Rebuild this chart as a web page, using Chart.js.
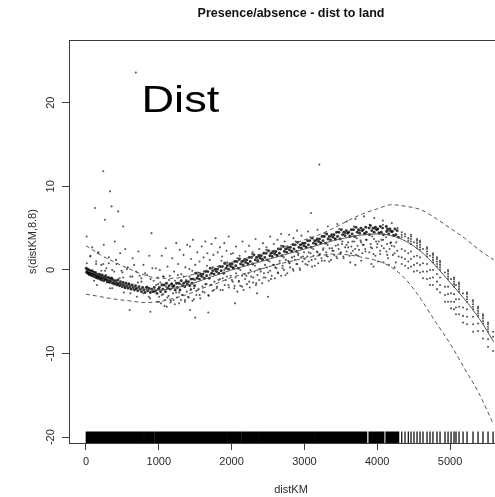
<!DOCTYPE html>
<html>
<head>
<meta charset="utf-8">
<script src="https://cdn.jsdelivr.net/npm/chart.js@4.4.1/dist/chart.umd.min.js"></script>
<style>
html, body { margin: 0; padding: 0; overflow: hidden; background: #fff; }
canvas { display: block; }
</style>
</head>
<body>
<canvas id="gamPlot" width="530" height="497"></canvas>
<script>
// Smooth term s(distKM) with its +/- 2 SE band
const fitKm    = [0,200,400,600,800,1000,1200,1400,1600,1800,2000,2200,2400,2600,2800,3000,3200,3400,3600,3800,4000,4200,4400,4600,4800,5000,5200,5400,5600];
const fitVal   = [0.0,-0.7,-1.4,-1.9,-2.3,-2.4,-2.2,-1.8,-1.2,-0.6,0.0,0.5,1.0,1.5,2.0,2.5,3.0,3.5,3.9,4.2,4.3,4.1,3.4,2.2,0.5,-1.5,-3.5,-5.8,-8.6];
const upperVal = [2.9,1.8,0.9,0.1,-0.6,-1.0,-1.0,-0.7,-0.2,0.4,0.9,1.4,1.9,2.4,3.0,3.6,4.2,5.0,5.9,6.7,7.3,7.8,7.6,7.2,6.2,5.0,3.8,2.4,1.2];
const lowerVal = [-2.9,-3.2,-3.5,-3.7,-3.9,-3.8,-3.4,-2.9,-2.2,-1.6,-0.9,-0.4,0.1,0.6,1.0,1.4,1.7,1.9,1.8,1.5,1.1,0.3,-1.2,-3.5,-6.2,-8.8,-11.8,-14.8,-18.5];

// Axis tick values
const xTickKm  = [0,1000,2000,3000,4000,5000];
const yTickVal = [-20,-10,0,10,20];

// Partial residuals [distKM, residual] -- concentrated band
const residNear = [[4,0.2],[9,-0.3],[15,-0.1],[22,0.1],[27,-0.4],[33,-0.2],[40,0.0],[46,-0.5],[52,-0.3],[58,-0.1],[65,-0.6],[71,-0.2],[78,-0.4],[84,-0.7],[90,-0.2],[97,-0.5],[104,-0.3],[110,-0.8],[117,-0.4],[124,-0.6],[131,-0.3],[138,-0.9],[145,-0.5],[152,-0.7],[160,-1.0],[167,-0.6],[175,-0.8],[183,-0.5],[190,-1.1],[198,-0.7],[206,-0.9],[214,-1.2],[222,-0.6],[230,-1.0],[238,-0.8],[246,-1.3],[255,-0.9],[263,-1.1],[271,-0.7],[280,-1.2],[289,-1.0],[298,-1.4],[307,-0.9],[316,-1.2],[325,-1.5],[335,-1.1],[344,-1.3],[354,-1.0],[364,-1.6],[374,-1.2],[384,-1.4],[394,-1.7],[405,-1.3],[416,-1.5],[427,-1.8],[438,-1.2],[450,-1.6],[462,-1.9],[474,-1.4],[486,-1.7],[498,-2.0],[511,-1.5],[524,-1.8],[537,-2.1],[550,-1.6],[564,-1.9],[578,-2.2],[592,-1.7],[606,-2.0],[620,-2.3],[635,-1.8],[650,-2.1],[665,-2.4],[680,-1.9],[696,-2.2],[712,-2.5],[728,-2.0],[745,-2.3],[762,-2.6],[779,-2.1],[796,-2.4],[813,-2.7],[830,-2.1],[848,-2.5],[866,-2.2],[884,-2.7],[902,-2.3],[920,-2.6],[938,-2.1],[956,-2.5],[975,-2.8],[994,-2.3]];

const residBand = [[1008,-2.1],[1025,-2.6],[1043,-1.8],[1057,-2.3],[1074,-1.8],[1092,-2.6],[1106,-1.6],[1124,-2.2],[1141,-1.9],[1157,-2.3],[1175,-1.7],[1192,-2.0],[1209,-1.9],[1226,-2.4],[1244,-1.6],[1256,-2.1],[1274,-1.6],[1291,-2.4],[1308,-1.3],[1325,-1.9],[1343,-1.6],[1357,-2.0],[1374,-1.4],[1392,-1.7],[1408,-1.4],[1425,-1.9],[1443,-1.1],[1456,-1.6],[1474,-1.1],[1491,-1.9],[1507,-0.4],[1525,-1.0],[1542,-0.7],[1558,-1.1],[1575,-0.5],[1593,-0.8],[1608,-0.5],[1626,-1.0],[1643,-0.2],[1657,-0.7],[1674,-0.2],[1692,-1.0],[1707,0.2],[1725,-0.4],[1742,-0.1],[1758,-0.5],[1776,0.1],[1793,-0.2],[1808,0.1],[1825,-0.4],[1843,0.4],[1857,-0.1],[1874,0.4],[1892,-0.4],[1906,0.8],[1924,0.2],[1941,0.5],[1958,0.1],[1975,0.7],[1993,0.4],
  [2008,0.7],[2025,0.2],[2043,1.0],[2057,0.5],[2074,1.0],[2092,0.2],[2107,1.3],[2124,0.7],[2142,1.0],[2158,0.6],[2175,1.2],[2193,0.9],[2208,1.2],[2226,0.7],[2243,1.5],[2256,1.0],[2274,1.5],[2291,0.7],[2307,1.8],[2325,1.2],[2342,1.5],[2358,1.1],[2375,1.7],[2393,1.4],[2408,1.7],[2426,1.2],[2443,2.0],[2456,1.5],[2474,2.0],[2491,1.2],[2507,2.3],[2525,1.7],[2542,2.0],[2558,1.6],[2575,2.2],[2593,1.9],[2608,2.2],[2626,1.7],[2643,2.5],[2656,2.0],[2674,2.5],[2691,1.7],[2707,2.8],[2725,2.2],[2742,2.5],[2758,2.1],[2776,2.7],[2793,2.4],[2808,2.7],[2826,2.2],[2843,3.0],[2857,2.5],[2874,3.0],[2892,2.2],[2907,3.3],[2925,2.7],[2942,3.0],[2958,2.6],[2975,3.2],[2993,2.9],
  [3008,3.2],[3026,2.7],[3043,3.5],[3056,3.0],[3074,3.5],[3091,2.7],[3107,3.8],[3125,3.2],[3142,3.5],[3158,3.1],[3176,3.7],[3193,3.4],[3208,3.7],[3226,3.2],[3243,4.0],[3256,3.5],[3274,4.0],[3291,3.2],[3307,4.3],[3325,3.7],[3342,4.0],[3358,3.6],[3375,4.2],[3393,3.9],[3408,4.2],[3426,3.7],[3443,4.5],[3456,4.0],[3474,4.5],[3491,3.7],[3507,4.8],[3525,4.2],[3542,4.5],[3558,4.1],[3575,4.7],[3593,4.4],[3608,4.5],[3626,4.0],[3643,4.8],[3656,4.3],[3674,4.8],[3691,4.0],[3707,5.1],[3725,4.5],[3742,4.8],[3758,4.4],[3776,5.0],[3793,4.7],[3808,4.8],[3826,4.3],[3843,5.1],[3850,4.5],[3888,5.0],[3894,4.2],[3907,5.3],[3925,4.7],[3942,5.0],[3958,4.5],[3975,5.1],[3993,4.8],[4008,4.9],[4026,4.4],[4043,5.2],[4056,4.5],[4074,5.0],[4086,4.2],[4124,5.2],[4130,4.6],[4142,4.9],[4158,4.3],[4176,4.9],[4193,4.6],[4208,4.6],[4226,4.1],[4243,4.9],[4256,4.2],[4274,4.7],[4291,3.9]];

// Partial residuals -- scattered cloud
const residCloud = [[9,4.0],[60,1.6],[85,2.7],[123,7.4],[140,1.0],[150,-1.8],[170,2.1],[210,0.6],[245,3.0],[260,6.0],[280,0.2],[315,1.5],[329,9.4],[330,-2.2],[352,7.6],[360,0.0],[395,3.4],[420,0.7],[443,7.0],[470,2.0],[500,-0.3],[511,5.2],[520,-2.7],[540,2.5],[575,0.3],[600,-4.8],[610,-0.8],[640,1.4],[690,-0.2],[700,-3.2],[720,2.2],[760,-1.0],[790,0.6],[840,-0.6],[870,1.7],[880,-3.4],[885,-5.0],[900,4.4],[930,-1.3],[960,0.2],[980,-3.8],[990,-1.7],
  [1015,0.0],[1040,1.7],[1068,-0.8],[1095,2.6],[1120,0.4],[1150,-0.7],[1185,1.4],[1210,-0.2],[1240,3.2],[1265,0.7],[1288,2.4],[1310,-0.5],[1340,1.8],[1365,0.3],[1390,3.0],[1420,0.1],[1428,2.8],[1445,1.3],[1470,3.6],[1500,0.6],[1530,2.1],[1560,1.0],[1590,2.8],[1615,1.5],[1640,3.4],[1668,2.0],[1700,1.2],[1725,3.1],[1750,1.8],[1780,3.8],[1810,2.1],[1840,2.7],[1870,1.6],[1900,3.2],[1930,2.3],[1960,4.0],[1990,1.9],
  [1005,-3.2],[1030,-4.0],[1060,-2.9],[1085,-3.6],[1110,-4.4],[1135,-3.1],[1165,-3.7],[1195,-2.8],[1220,-4.1],[1250,-3.3],[1280,-2.7],[1305,-3.6],[1330,-3.0],[1360,-3.8],[1385,-2.6],[1410,-3.3],[1430,-4.8],[1438,-2.4],[1462,-3.7],[1485,-2.2],[1500,-5.7],[1515,-3.0],[1545,-2.3],[1570,-3.4],[1600,-2.0],[1628,-2.7],[1655,-1.7],[1680,-5.1],[1685,-3.1],[1712,-1.8],[1738,-2.5],[1765,-1.4],[1795,-2.2],[1822,-1.2],[1848,-2.4],[1878,-1.0],[1905,-1.8],[1935,-0.8],[1962,-2.1],[1988,-0.7],
  [2020,2.0],[2060,2.8],[2110,1.7],[2150,3.4],[2190,2.2],[2240,2.9],[2290,2.1],[2330,3.7],[2380,2.5],[2430,3.2],[2480,2.7],[2530,4.0],[2580,3.1],[2630,3.6],[2680,4.3],[2730,3.4],[2790,4.2],[2850,3.8],[2900,4.7],[2960,4.1],
  [2015,-1.4],[2035,-2.2],[2047,-4.0],[2055,-0.9],[2080,-2.6],[2100,-1.3],[2120,-1.9],[2145,-0.7],[2165,-2.4],[2185,-1.1],[2210,-1.7],[2230,-0.4],[2250,-2.1],[2270,-0.8],[2295,-1.5],[2315,-0.2],[2335,-1.8],[2350,-2.8],[2355,-0.6],[2380,-1.2],[2400,0.1],[2420,-1.6],[2445,-0.4],[2465,-0.9],[2485,0.3],[2500,-3.2],[2510,-1.3],[2530,-0.1],[2550,-0.7],[2570,0.6],[2595,-1.0],[2615,0.2],[2635,-0.3],[2660,0.8],[2680,-0.7],[2700,0.5],[2720,0.0],[2745,1.2],[2765,-0.4],[2785,0.9],[2805,0.3],[2830,1.5],[2850,-0.1],[2870,1.2],[2890,0.7],[2915,1.8],[2935,0.2],[2955,1.5],[2975,1.0],[2995,2.1],
  [3015,0.7],[3040,1.6],[3050,4.6],[3060,1.0],[3085,2.0],[3105,0.4],[3125,1.7],[3150,1.3],[3170,2.2],[3180,4.8],[3190,0.8],[3215,1.9],[3235,1.4],[3255,2.4],[3280,1.1],[3300,2.1],[3320,1.6],[3322,5.2],[3345,2.6],[3365,1.2],[3385,2.3],[3410,1.8],[3430,2.9],[3450,1.4],[3452,5.5],[3470,2.5],[3495,2.0],[3515,3.1],[3535,1.6],[3560,2.7],[3580,2.2],[3582,5.8],[3600,3.3],[3620,1.7],[3630,0.9],[3645,2.8],[3665,2.3],[3685,3.4],[3700,0.6],[3702,6.1],[3710,1.8],[3730,2.9],[3750,2.4],[3772,3.5],[3780,1.1],[3795,2.0],[3815,3.0],[3820,6.4],[3835,2.5],[3846,3.6],[3892,2.1],[3910,3.1],[3920,0.7],[3930,2.6],[3950,0.4],[3955,3.7],[3960,6.2],[3975,1.7],[3998,2.7],[4010,1.0],[4020,3.4],[4040,1.9],[4062,2.9],[4078,5.9],[4080,3.6],[4088,0.9],[4126,2.2],[4135,3.1],[4150,1.4],[4160,0.6],[4170,2.5],[4190,3.3],[4200,5.6],[4215,1.8],[4235,2.8],[4240,0.3],[4255,0.9],[4275,2.3],[4295,1.6]];

// Partial residuals -- second layer of the cloud around the smooth
const residSpread = [[12,0.8],[37,-0.6],[61,1.7],[88,0.0],[112,-1.3],[139,0.7],[163,2.0],[188,-0.9],[211,-0.1],[238,0.7],[262,-0.1],[287,-1.5],[313,0.8],[337,-0.9],[361,-2.2],[388,-0.2],[412,1.2],[437,-1.7],[463,-1.0],[488,-0.1],[512,-0.9],[536,-2.2],[563,0.1],[589,-1.6],[611,-2.8],[638,-0.8],[662,0.6],[687,-2.3],[713,-1.5],[737,-0.7],[762,-1.4],[788,-2.8],[812,-0.4],[839,-2.0],[863,-3.2],[888,-1.1],[912,0.2],[937,-2.6],[963,-1.8],[988,-0.9],
  [1003,-3.8],[1021,-1.5],[1042,-3.0],[1060,-0.8],[1079,-4.3],[1101,-2.0],[1118,-3.3],[1139,-1.2],[1161,-3.9],[1180,-1.6],[1203,-3.6],[1222,-1.3],[1238,-2.7],[1262,-0.6],[1279,-4.0],[1297,-1.7],[1318,-3.0],[1341,-0.8],[1359,-3.6],[1377,-1.2],[1402,-3.2],[1420,-0.8],[1441,-2.3],[1460,-0.1],[1482,-3.5],[1499,-1.2],[1517,-2.5],[1538,-0.3],[1561,-3.0],[1579,-0.7],[1603,-2.6],[1619,-0.2],[1640,-1.7],[1662,0.5],[1681,-3.0],[1702,-0.6],[1719,-1.8],[1741,0.3],[1760,-2.4],[1778,-0.1],[1801,-2.0],[1822,0.4],[1839,-1.1],[1861,1.1],[1880,-2.4],[1899,0.0],[1921,-1.2],[1940,0.9],[1958,-1.8],[1979,0.5],
  [2004,-1.2],[2019,0.3],[2041,-1.9],[2062,-0.4],[2078,1.4],[2099,-1.4],[2121,0.0],[2143,-2.0],[2160,1.0],[2181,-0.5],[2203,-0.7],[2218,0.8],[2242,-1.4],[2259,0.0],[2283,1.9],[2298,-0.9],[2322,0.5],[2339,-1.6],[2358,1.5],[2382,0.1],[2401,-0.2],[2423,1.3],[2441,-0.9],[2460,0.6],[2478,2.4],[2502,-0.3],[2519,1.0],[2540,-1.1],[2563,2.0],[2581,0.6],[2600,0.3],[2622,1.8],[2639,-0.4],[2661,1.1],[2679,2.9],[2702,0.2],[2718,1.5],[2741,-0.6],[2763,2.5],[2779,1.1],[2798,0.8],[2821,2.3],[2842,0.1],[2861,1.6],[2880,3.4],[2902,0.7],[2919,2.0],[2940,0.0],[2962,3.0],[2981,1.6],
  [3003,1.3],[3018,2.8],[3041,0.6],[3060,2.1],[3082,3.9],[3099,1.2],[3121,2.5],[3143,0.5],[3159,3.5],[3181,2.1],[3201,1.8],[3222,3.3],[3240,1.1],[3261,2.6],[3279,4.4],[3302,1.7],[3319,3.0],[3341,1.0],[3363,4.0],[3380,2.6],[3399,2.3],[3421,3.7],[3439,1.6],[3461,3.0],[3478,4.9],[3501,2.1],[3522,3.4],[3539,1.4],[3561,4.4],[3579,3.0],[3602,2.7],[3618,4.1],[3641,2.0],[3659,3.4],[3680,5.2],[3697,2.5],[3719,3.8],[3738,1.7],[3761,4.7],[3779,3.3],[3801,3.0],[3822,4.4],[3839,2.2],[3855,3.6],[3897,5.4],[3912,2.7],[3931,4.0],[3949,1.9],[3968,4.9],[3985,3.4],[4002,3.1],[4021,4.5],[4039,2.3],[4058,3.6],[4079,5.4],[4091,2.6],[4121,3.9],[4138,1.8],[4162,4.7],[4181,3.2],[4199,2.9],[4221,4.2],[4238,2.0],[4262,3.3],[4281,5.0]];

// Partial residuals -- beyond 4300 km, grouped at few distances
const residOffshore = [[4337,4.2],[4337,4.5],[4337,3.9],[4337,2.5],[4337,1.5],[4337,0.7],
  [4382,4.0],[4382,4.3],[4382,2.3],[4382,1.3],[4382,0.5],
  [4427,3.8],[4427,3.5],[4427,2.0],[4427,1.0],[4427,0.2],
  [4464,3.1],[4464,3.4],[4464,3.7],[4464,4.0],[4464,4.2],[4464,2.2],[4464,1.3],[4464,0.4],
  [4505,3.3],[4505,1.6],[4505,0.6],[4505,-0.2],
  [4547,2.6],[4547,2.9],[4547,3.2],[4547,3.5],[4547,3.7],[4547,1.7],[4547,0.8],[4547,-0.1],
  [4588,2.4],[4588,2.7],[4588,3.0],[4588,3.3],[4588,3.5],[4588,1.5],[4588,0.6],[4588,-0.3],
  [4629,2.5],[4629,0.8],[4629,-0.2],[4629,-1.0],
  [4684,1.6],[4684,1.9],[4684,2.2],[4684,2.5],[4684,2.7],[4684,0.7],[4684,-0.2],[4684,-1.1],
  [4725,1.7],[4725,0.0],[4725,-1.0],[4725,-1.8],
  [4766,0.9],[4766,1.2],[4766,1.5],[4766,1.8],[4766,2.0],[4766,0.0],[4766,-0.9],[4766,-1.8],
  [4821,0.4],[4821,0.7],[4821,1.0],[4821,1.3],[4821,1.5],[4821,-0.5],[4821,-1.4],[4821,-2.3],
  [4863,0.0],[4863,0.3],[4863,0.6],[4863,0.9],[4863,1.1],[4863,-0.9],[4863,-1.8],[4863,-2.7],
  [4931,-0.3],[4931,-2.0],[4931,-3.0],[4931,-3.8],
  [4973,-1.1],[4973,-0.8],[4973,-0.5],[4973,-0.2],[4973,0.0],[4973,-2.0],[4973,-2.9],[4973,-3.8],
  [5014,-1.1],[5014,-2.8],[5014,-3.8],[5014,-4.6],
  [5055,-2.0],[5055,-1.7],[5055,-1.4],[5055,-1.1],[5055,-0.9],[5055,-2.9],[5055,-3.8],[5055,-4.7],
  [5082,-1.8],[5082,-3.5],[5082,-4.5],[5082,-5.3],
  [5124,-2.6],[5124,-2.3],[5124,-2.0],[5124,-1.7],[5124,-1.5],[5124,-3.5],[5124,-4.4],[5124,-5.3],
  [5179,-2.8],[5179,-4.5],[5179,-5.5],[5179,-6.3],
  [5234,-3.8],[5234,-3.5],[5234,-3.2],[5234,-2.9],[5234,-2.7],[5234,-4.7],[5234,-5.6],[5234,-6.5],
  [5316,-4.7],[5316,-4.4],[5316,-4.1],[5316,-3.8],[5316,-3.6],[5316,-5.6],[5316,-6.5],[5316,-7.4],
  [5385,-5.5],[5385,-5.2],[5385,-4.9],[5385,-4.6],[5385,-4.4],[5385,-6.4],[5385,-7.3],
  [5453,-6.4],[5453,-6.1],[5453,-5.8],[5453,-5.5],[5453,-5.3],[5453,-7.3],[5453,-8.2],
  [5522,-7.4],[5522,-7.1],[5522,-6.8],[5522,-6.5],[5522,-6.3],[5522,-8.3],[5522,-9.2],
  [5591,-8.0],[5591,-9.7],[5591,-7.4]];

const residOutliers = [[685,23.6],[237,11.8],[3205,12.6],[3092,6.8]];

// ---- chart ----
const FONT = '"Liberation Sans", Arial, Helvetica, sans-serif';
const INK = '#3c3c3c';
const LABEL = '#2a2a2a';

const asPoints = (xs, ys) => xs.map((x, i) => ({ x, y: ys[i] }));
const fromPairs = arr => arr.map(([x, y]) => ({ x, y }));

const bandResid = [...residNear, ...residBand];
const looseResid = [...residCloud, ...residSpread, ...residOffshore, ...residOutliers];
const rugKm = [...new Set([...bandResid, ...looseResid].map(p => p[0]))];

// rug of observed distKM values along the bottom edge
const rugPlugin = {
  id: 'rug',
  afterDatasetsDraw(chart) {
    const { ctx, chartArea: a, scales: { x } } = chart;
    ctx.save();
    ctx.beginPath();
    ctx.rect(a.left, a.top, a.right - a.left, a.bottom - a.top);
    ctx.clip();
    ctx.beginPath();
    ctx.strokeStyle = '#000';
    ctx.lineWidth = 1.2;
    rugKm.forEach(v => {
      const px = x.getPixelForValue(v);
      ctx.moveTo(px, a.bottom);
      ctx.lineTo(px, a.bottom - 11.5);
    });
    ctx.stroke();
    ctx.restore();
  }
};

// box around the plotting region
const framePlugin = {
  id: 'frame',
  afterDatasetsDraw(chart) {
    const { ctx, chartArea: a } = chart;
    ctx.save();
    ctx.strokeStyle = INK;
    ctx.lineWidth = 1;
    ctx.strokeRect(a.left + 0.5, a.top + 0.5, a.right - a.left, a.bottom - a.top);
    ctx.restore();
  }
};

// panel tag
const tagPlugin = {
  id: 'panelTag',
  afterDraw(chart) {
    const { ctx, chartArea: a } = chart;
    ctx.save();
    ctx.translate(a.left + 72.5, a.top + 72);
    ctx.scale(1.22, 1);
    ctx.font = '37px ' + FONT;
    ctx.fillStyle = '#000';
    ctx.textBaseline = 'alphabetic';
    ctx.fillText('Dist', 0, 0);
    ctx.restore();
  }
};

const bandLine = (data, dashed) => ({
  type: 'line',
  data,
  borderColor: '#555',
  borderWidth: 1,
  borderDash: dashed ? [4, 3] : [],
  pointRadius: 0,
  fill: false,
  cubicInterpolationMode: 'monotone'
});

const residStyle = (r, alpha) => ({
  pointStyle: 'circle',
  pointRadius: r,
  pointHoverRadius: r,
  pointBackgroundColor: `rgba(0,0,0,${alpha})`,
  pointBorderWidth: 0
});

new Chart(document.getElementById('gamPlot'), {
  type: 'scatter',
  data: {
    datasets: [
      Object.assign(bandLine(asPoints(fitKm, fitVal), false), { label: 's(distKM,8.8)' }),
      Object.assign(bandLine(asPoints(fitKm, upperVal), true), { label: '+2 se' }),
      Object.assign(bandLine(asPoints(fitKm, lowerVal), true), { label: '-2 se' }),
      Object.assign({ label: 'partial residuals (band)', data: fromPairs(bandResid) }, residStyle(1.45, 0.8)),
      Object.assign({ label: 'partial residuals', data: fromPairs(looseResid) }, residStyle(1.05, 0.65))
    ]
  },
  options: {
    responsive: false,
    animation: false,
    events: [],
    layout: { padding: { left: 0, right: 17, top: 0, bottom: 0 } },
    plugins: {
      legend: { display: false },
      tooltip: { enabled: false },
      title: {
        display: true,
        text: 'Presence/absence - dist to land',
        fullSize: false,
        color: '#111',
        font: { family: FONT, size: 12.5, weight: 'bold' },
        padding: { top: 6.5, bottom: 18.5 }
      }
    },
    scales: {
      x: {
        type: 'linear',
        min: -233,
        max: 5865,
        afterBuildTicks: s => { s.ticks = xTickKm.map(value => ({ value })); },
        afterFit: s => { s.height = 54; },
        border: { display: false },
        grid: { display: true, drawOnChartArea: false, drawTicks: true, tickLength: 7, color: INK },
        ticks: { color: LABEL, font: { family: FONT, size: 11 }, padding: 5, maxRotation: 0, autoSkip: false, callback: v => String(v) },
        title: { display: true, text: 'distKM', color: LABEL, font: { family: FONT, size: 11 }, padding: { top: 0, bottom: 0 } }
      },
      y: {
        type: 'linear',
        min: -20.7,
        max: 27.5,
        afterBuildTicks: s => { s.ticks = yTickVal.map(value => ({ value })); },
        afterFit: s => { s.width = 69; },
        border: { display: false },
        grid: { display: true, drawOnChartArea: false, drawTicks: true, tickLength: 7, color: INK },
        ticks: { color: LABEL, font: { family: FONT, size: 11 }, padding: 3, minRotation: 90, maxRotation: 90, crossAlign: 'center', autoSkip: false, callback: v => String(v) },
        title: { display: true, text: 's(distKM,8.8)', color: LABEL, font: { family: FONT, size: 11 }, padding: { top: 26, bottom: 0 } }
      }
    }
  },
  plugins: [rugPlugin, framePlugin, tagPlugin]
});
</script>
</body>
</html>
